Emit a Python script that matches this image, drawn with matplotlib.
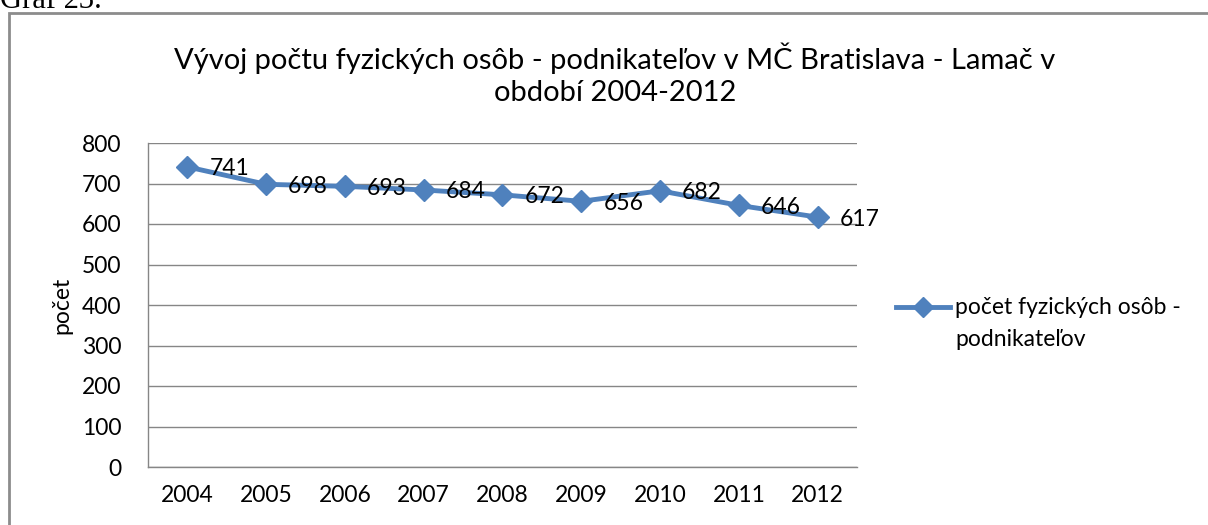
import matplotlib.pyplot as plt
from matplotlib.patches import Rectangle
from matplotlib.lines import Line2D

# data
years = ['2004', '2005', '2006', '2007', '2008', '2009', '2010', '2011', '2012']
counts = [741, 698, 693, 684, 672, 656, 682, 646, 617]
y_ticks = [0, 100, 200, 300, 400, 500, 600, 700, 800]

title = 'Vývoj počtu fyzických osôb - podnikateľov v MČ Bratislava - Lamač v\nobdobí 2004-2012'
legend_lines = ['počet fyzických osôb -', 'podnikateľov']

blue = '#4F81BD'
grid_col = '#868686'

plt.rcParams['font.family'] = ['Lato', 'DejaVu Sans']

fig = plt.figure(figsize=(12.08, 5.25), dpi=100)

# chart frame (runs off the right and bottom edges like the screenshot)
fig.patches.append(Rectangle((9 / 1208, -0.05), 1.2, 1 - 13 / 525 + 0.05,
                             transform=fig.transFigure, fill=False,
                             edgecolor='#8c8c8c', linewidth=2))
fig.text(0, 1 - 8 / 525, 'Graf 23.', family='Liberation Serif', fontsize=22,
         va='baseline', ha='left')

ax = fig.add_axes([148 / 1208, 1 - 467 / 525, (857 - 148) / 1208, (467 - 143) / 525])
x = list(range(len(years)))
ax.plot(x, counts, color=blue, linewidth=3.5, marker='D', markersize=11,
        markeredgecolor=blue, markerfacecolor=blue, zorder=3)

for xi, v in zip(x, counts):
    ax.annotate(str(v), (xi, v), xytext=(22, -2), textcoords='offset pixels',
                ha='left', va='center', fontsize=16.5, zorder=4)

ax.set_xlim(-0.5, len(years) - 0.5)
ax.set_ylim(0, 800)
ax.set_yticks(y_ticks)
ax.set_xticks(x)
ax.set_xticklabels(years)
ax.yaxis.grid(True, color=grid_col, linewidth=1)
ax.set_axisbelow(True)
for s in ['top', 'right']:
    ax.spines[s].set_visible(False)
for s in ['left', 'bottom']:
    ax.spines[s].set_color(grid_col)
    ax.spines[s].set_linewidth(1)
ax.tick_params(axis='both', length=0, labelsize=16.5, colors='black')
ax.tick_params(axis='y', pad=19)
ax.tick_params(axis='x', pad=13)
ax.set_ylabel('počet', fontsize=16.5, labelpad=7)

fig.text(615 / 1208, 1 - 74 / 525, title, ha='center', va='center',
         fontsize=21, linespacing=1.3)

# legend drawn by hand so the marker sits on the first text line
leg_y = 1 - 307 / 525
fig.add_artist(Line2D([896 / 1208, 923 / 1208, 950 / 1208], [leg_y] * 3,
                      transform=fig.transFigure, color=blue, linewidth=3.5,
                      marker='D', markersize=10, markevery=[1]))
fig.text(955 / 1208, leg_y, legend_lines[0], fontsize=16.5, va='center', ha='left')
fig.text(955 / 1208, 1 - 340 / 525, legend_lines[1], fontsize=16.5, va='center', ha='left')

fig.savefig('out.png', dpi=100)
